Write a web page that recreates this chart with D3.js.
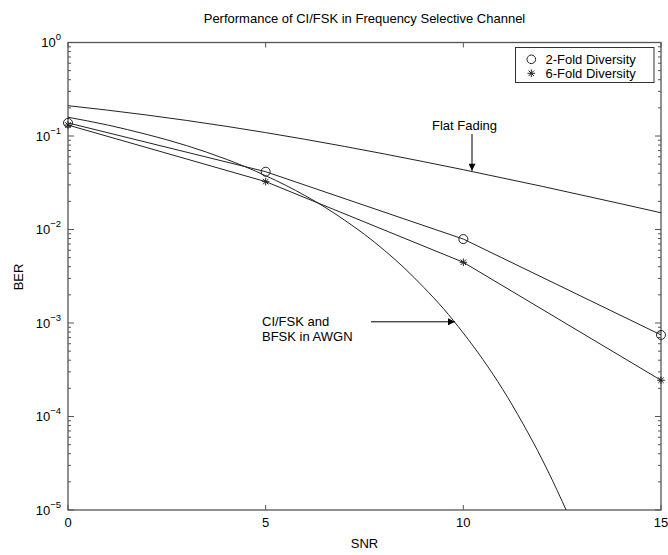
<!DOCTYPE html>
<html>
<head>
<meta charset="utf-8">
<script src="https://cdn.jsdelivr.net/npm/d3@7"></script>
<style>
  body { margin: 0; background: #fff; }
  svg text { font-family: "Liberation Sans", Arial, Helvetica, sans-serif; fill: #000; }
</style>
</head>
<body>
<div id="chart"></div>
<script>
// data
var snrMarks = [0, 5, 10, 15]
var twoFold = [0.138, 0.0415, 0.0079, 0.000745]
var sixFold = [0.131, 0.0325, 0.00446, 0.000244]

var fadeSnr = [0, 1, 2, 3, 4, 5, 6, 7, 8, 9, 10, 11, 12, 13, 14, 15]
var flatFading = [0.211, 0.189, 0.1675, 0.1467, 0.127, 0.1087, 0.0921, 0.0773, 0.0643, 0.0531, 0.0436, 0.0355, 0.0289, 0.0233, 0.0188, 0.0151]

var awgnSnr = [0, 0.5, 1, 1.5, 2, 2.5, 3, 3.5, 4, 4.5, 5, 5.5, 6, 6.5, 7, 7.5, 8, 8.5, 9, 9.5, 10, 10.5, 11, 11.5, 12, 12.5, 12.6]
var awgn = [0.1587, 0.1448, 0.1312, 0.1172, 0.1038, 0.0911, 0.0789, 0.0673, 0.0565, 0.0466, 0.0376, 0.0298, 0.0230, 0.0173, 0.01255, 0.00887, 0.0060, 0.0039, 0.0024, 0.00142, 0.00078, 0.000404, 0.000194, 0.000085, 0.0000343, 0.0000124, 0.00001]

var xTicks = [0, 5, 10, 15]
var yDecades = [0, -1, -2, -3, -4, -5]
var legendLabels = ["2-Fold Diversity", "6-Fold Diversity"]

var width = 668, height = 555
var pLeft = 68, pRight = 661, pTop = 42.5, pBottom = 510

var svg = d3.select("#chart").append("svg")
    .attr("width", width)
    .attr("height", height)

var x = d3.scaleLinear().domain([0, 15]).range([pLeft, pRight])
var y = d3.scaleLog().domain([1e-5, 1]).range([pBottom, pTop])

var axisColor = "#555"
var fs = "13px"

// minor + major ticks on left and right, inside
var minorVals = []
yDecades.forEach(function(e) {
    if (e > -5) {
        for (var k = 2; k <= 9; k++) minorVals.push(k * Math.pow(10, e - 1))
    }
})
var tickG = svg.append("g").attr("stroke", axisColor).attr("stroke-width", 1)
minorVals.forEach(function(v) {
    tickG.append("line").attr("x1", pLeft).attr("x2", pLeft + 3).attr("y1", y(v)).attr("y2", y(v))
    tickG.append("line").attr("x1", pRight).attr("x2", pRight - 3).attr("y1", y(v)).attr("y2", y(v))
})
yDecades.forEach(function(e) {
    var v = Math.pow(10, e)
    tickG.append("line").attr("x1", pLeft).attr("x2", pLeft + 6).attr("y1", y(v)).attr("y2", y(v))
    tickG.append("line").attr("x1", pRight).attr("x2", pRight - 6).attr("y1", y(v)).attr("y2", y(v))
})
xTicks.forEach(function(t) {
    tickG.append("line").attr("x1", x(t)).attr("x2", x(t)).attr("y1", pBottom).attr("y2", pBottom - 5)
    tickG.append("line").attr("x1", x(t)).attr("x2", x(t)).attr("y1", pTop).attr("y2", pTop + 5)
})

// frame
svg.append("rect")
    .attr("x", pLeft).attr("y", pTop)
    .attr("width", pRight - pLeft).attr("height", pBottom - pTop)
    .attr("fill", "none").attr("stroke", axisColor).attr("stroke-width", 1.3)

// y tick labels 10^e
yDecades.forEach(function(e) {
    var t = svg.append("text")
        .attr("x", pLeft - 7)
        .attr("y", y(Math.pow(10, e)) + 4.5)
        .attr("text-anchor", "end")
        .style("font-size", fs)
    t.append("tspan").text("10")
    t.append("tspan").attr("dy", -7).style("font-size", "9.5px").text(e == 0 ? "0" : "\u2212" + (-e))
})

// x tick labels
xTicks.forEach(function(t) {
    svg.append("text")
        .attr("x", x(t)).attr("y", pBottom + 17)
        .attr("text-anchor", "middle")
        .style("font-size", fs)
        .text(t)
})

// titles
svg.append("text").attr("x", (pLeft + pRight) / 2).attr("y", 22.5)
    .attr("text-anchor", "middle").style("font-size", fs)
    .text("Performance of CI/FSK in Frequency Selective Channel")
svg.append("text").attr("x", (pLeft + pRight) / 2).attr("y", 548)
    .attr("text-anchor", "middle").style("font-size", fs)
    .text("SNR")
svg.append("text")
    .attr("transform", "translate(23," + 277 + ") rotate(-90)")
    .attr("text-anchor", "middle").style("font-size", fs)
    .text("BER")

// curves
var clip = svg.append("clipPath").attr("id", "plotclip")
clip.append("rect").attr("x", pLeft).attr("y", pTop).attr("width", pRight - pLeft).attr("height", pBottom - pTop)

var line = d3.line()
    .x(function(d) { return x(d[0]) })
    .y(function(d) { return y(d[1]) })

var smooth = d3.line()
    .x(function(d) { return x(d[0]) })
    .y(function(d) { return y(d[1]) })
    .curve(d3.curveMonotoneX)

var plot = svg.append("g").attr("clip-path", "url(#plotclip)")
    .attr("fill", "none").attr("stroke", "#222").attr("stroke-width", 1)

plot.append("path").attr("d", smooth(d3.zip(fadeSnr, flatFading)))
plot.append("path").attr("d", smooth(d3.zip(awgnSnr, awgn)))
plot.append("path").attr("d", line(d3.zip(snrMarks, twoFold)))
plot.append("path").attr("d", line(d3.zip(snrMarks, sixFold)))

function star(cx, cy, r) {
    var d = r * 0.72
    return "M" + (cx - r) + "," + cy + "H" + (cx + r) +
        "M" + cx + "," + (cy - r) + "V" + (cy + r) +
        "M" + (cx - d) + "," + (cy - d) + "L" + (cx + d) + "," + (cy + d) +
        "M" + (cx - d) + "," + (cy + d) + "L" + (cx + d) + "," + (cy - d)
}

var marks = svg.append("g").attr("fill", "none").attr("stroke", "#222").attr("stroke-width", 1)
marks.selectAll("circle.two").data(d3.zip(snrMarks, twoFold)).enter()
    .append("circle")
    .attr("cx", function(d) { return x(d[0]) })
    .attr("cy", function(d) { return y(d[1]) })
    .attr("r", 4.5)
marks.selectAll("path.six").data(d3.zip(snrMarks, sixFold)).enter()
    .append("path")
    .attr("d", function(d) { return star(x(d[0]), y(d[1]), 3.8) })

// annotations
svg.append("defs").append("marker")
    .attr("id", "arrow").attr("viewBox", "0 0 10 10")
    .attr("refX", 10).attr("refY", 5)
    .attr("markerWidth", 9).attr("markerHeight", 7)
    .attr("markerUnits", "userSpaceOnUse")
    .attr("orient", "auto")
    .append("path").attr("d", "M0,0L10,5L0,10Z").attr("fill", "#000")

var ffX = 472
svg.append("text").attr("x", 497).attr("y", 130)
    .attr("text-anchor", "end").style("font-size", fs).text("Flat Fading")
svg.append("line")
    .attr("x1", ffX).attr("y1", 134)
    .attr("x2", ffX).attr("y2", y(0.0425))
    .attr("stroke", "#000").attr("marker-end", "url(#arrow)")

svg.append("text").attr("x", 262).attr("y", 326).style("font-size", fs).text("CI/FSK and")
svg.append("text").attr("x", 262).attr("y", 341).style("font-size", fs).text("BFSK in AWGN")
svg.append("line")
    .attr("x1", 371).attr("y1", y(0.00103))
    .attr("x2", 455).attr("y2", y(0.00103))
    .attr("stroke", "#000").attr("marker-end", "url(#arrow)")

// legend
var lg = svg.append("g")
lg.append("rect").attr("x", 515.5).attr("y", 47.5).attr("width", 138.5).attr("height", 35)
    .attr("fill", "#fff").attr("stroke", "#333").attr("stroke-width", 1)
lg.append("circle").attr("cx", 531.3).attr("cy", 59.3).attr("r", 4.3)
    .attr("fill", "none").attr("stroke", "#222")
lg.append("path").attr("d", star(531.3, 73.3, 3.8)).attr("fill", "none").attr("stroke", "#222")
legendLabels.forEach(function(l, i) {
    lg.append("text").attr("x", 545.5).attr("y", 63.5 + i * 14)
        .style("font-size", fs).text(l)
})
</script>
</body>
</html>
